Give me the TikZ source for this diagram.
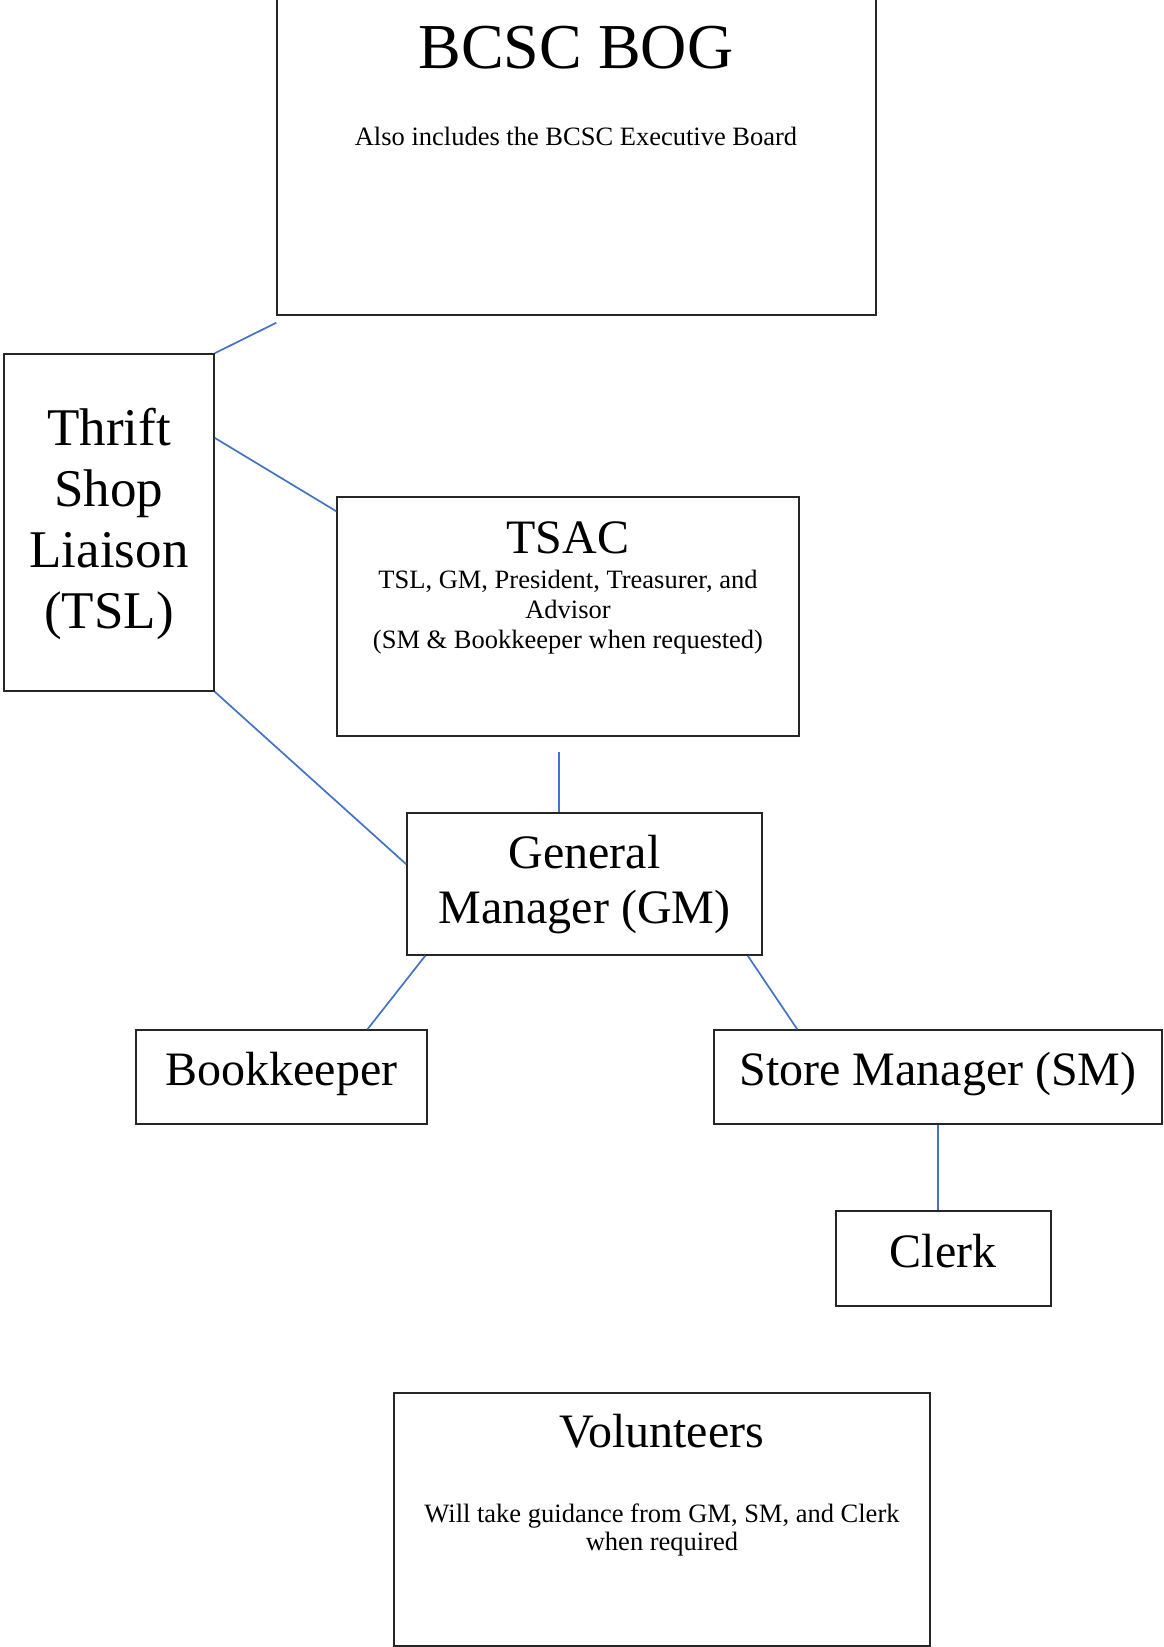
\documentclass[tikz,border=0pt]{standalone}
\usepackage{fontspec}
\setmainfont{Liberation Serif}
\usetikzlibrary{calc}
\definecolor{linkblue}{RGB}{68,114,196}

\begin{document}
\begin{tikzpicture}[x=0.5pt,y=-0.5pt]
\tikzstyle{box}=[draw=black!85,line width=0.75pt,inner sep=0pt]
\tikzstyle{link}=[draw=linkblue,line width=0.85pt]
\tikzstyle{big}=[anchor=base,inner sep=0pt,align=center,font=\fontsize{24}{27.5}\selectfont]
\tikzstyle{small}=[anchor=base,inner sep=0pt,align=center,font=\fontsize{13.25}{15}\selectfont]
	\useasboundingbox (0,0) rectangle (1163,1647);
	% boxes
	\node[box,minimum width=299.5pt,minimum height=167.5pt] (bog) at (576.5,147.5) {};
	\node[box,minimum width=105pt,minimum height=168.5pt] (tsl) at (109,522.5) {};
	\node[box,minimum width=231pt,minimum height=119.5pt] (tsac) at (568,616.5) {};
	\node[box,minimum width=177.5pt,minimum height=71pt] (gm) at (584.5,884) {};
	\node[box,minimum width=145.5pt,minimum height=47pt] (bk) at (281.5,1077) {};
	\node[box,minimum width=224pt,minimum height=47pt] (sm) at (938,1077) {};
	\node[box,minimum width=107.5pt,minimum height=47.5pt] (clerk) at (943.5,1258.5) {};
	\node[box,minimum width=268pt,minimum height=126.5pt] (vol) at (662,1519.5) {};
	% texts (base = last line)
	\node[big,font=\fontsize{32}{36}\selectfont] (bogtitle) at (576,69) {BCSC BOG};
	\node[small] (bognote) at (576,146) {Also includes the BCSC Executive Board};
	\node[big,font=\fontsize{26.5}{30.5}\selectfont] (tsltext) at (109,628) {Thrift\\Shop\\Liaison\\(TSL)};
	\node[big] (tsactitle) at (568,553) {TSAC};
	\node[small] (tsacnote) at (568,648) {TSL, GM, President, Treasurer, and\\Advisor\\(SM \& Bookkeeper when requested)};
	\node[big] (gmtext) at (584.5,923) {General\\Manager (GM)};
	\node[big] (bktext) at (281.5,1085) {Bookkeeper};
	\node[big] (smtext) at (938,1085) {Store Manager (SM)};
	\node[big] (clerktext) at (943,1267) {Clerk};
	\node[big] (voltitle) at (662,1447) {Volunteers};
	\node[small,font=\fontsize{13.25}{14}\selectfont] (volnote) at (662,1550) {Will take guidance from GM, SM, and Clerk\\when required};
	% connectors
	\draw[link] (tsl.north east) -- ([yshift=-3.5pt]bog.south west);
	\draw[link] ($(tsl.north east)!0.25!(tsl.south east)$) -- ([yshift=-7.5pt]tsac.north west);
	\draw[link] (tsl.south east) -- ([yshift=-26pt]gm.north west);
	\coordinate (tsacfoot) at ([xshift=-4.5pt,yshift=-7.5pt]tsac.south);
	\draw[link] (tsacfoot) -- (tsacfoot |- gm.north);
	\draw[link] ([xshift=9.5pt]gm.south west) -- ([xshift=43pt]bk.north);
	\draw[link] ([xshift=-7.5pt]gm.south east) -- ([xshift=42pt]sm.north west);
	\draw[link] (sm.south) -- (sm.south |- clerk.north);
\end{tikzpicture}
\end{document}
